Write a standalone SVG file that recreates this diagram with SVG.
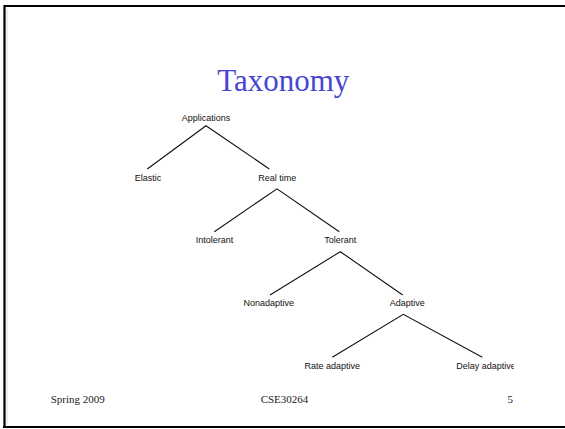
<svg xmlns="http://www.w3.org/2000/svg" width="565" height="429" viewBox="0 0 565 429">
<style>
.lbl{font-family:"Liberation Sans",Arial,sans-serif;font-size:9px;fill:#111;text-anchor:middle}
.ft{font-family:"Liberation Serif","Times New Roman",serif;font-size:11px;fill:#222}
.edge{stroke:#111;stroke-width:1.1;fill:none}
</style>
<defs><clipPath id="clipR"><rect x="0" y="0" width="514" height="429"/></clipPath></defs>
<rect x="0" y="0" width="565" height="429" fill="#fff"/>
<path d="M4.5 428 V6 H566" fill="none" stroke="#000" stroke-width="2.2"/>
<path d="M7 9 V425" stroke="#ddd" stroke-width="1"/>
<line x1="3" y1="427" x2="566" y2="427" stroke="#000" stroke-width="2.2"/>
<text x="283.3" y="91" font-family="Liberation Serif,'Times New Roman',serif" font-size="31" fill="#4646d0" text-anchor="middle">Taxonomy</text>
<g id="connectors">
<path class="edge" d="M147.3 169 L206 125.7 L269.3 169"/>
<path class="edge" d="M214.3 231.7 L277 188.8 L339.3 231.7"/>
<path class="edge" d="M270 295 L340.3 251.7 L402.7 295"/>
<path class="edge" d="M332.3 357.3 L403.3 314.3 L482.3 357.3"/>
</g>
<g id="applications"><text class="lbl" x="206" y="121">Applications</text></g>
<g id="elastic"><text class="lbl" x="148" y="180.7">Elastic</text></g>
<g id="realtime"><text class="lbl" x="277.3" y="180.7">Real time</text></g>
<g id="intolerant"><text class="lbl" x="214.5" y="243.3">Intolerant</text></g>
<g id="tolerant"><text class="lbl" x="340.3" y="243.3">Tolerant</text></g>
<g id="nonadaptive"><text class="lbl" x="268.7" y="306.3">Nonadaptive</text></g>
<g id="adaptive"><text class="lbl" x="407.3" y="306.3">Adaptive</text></g>
<g id="rateadaptive"><text class="lbl" x="332.2" y="369.3">Rate adaptive</text></g>
<g id="delayadaptive" clip-path="url(#clipR)"><text class="lbl" x="486" y="369.3">Delay adaptive</text></g>
<text class="ft" x="50.7" y="403">Spring 2009</text>
<text class="ft" x="284.5" y="403.3" text-anchor="middle">CSE30264</text>
<text class="ft" x="507.5" y="403">5</text>
</svg>
